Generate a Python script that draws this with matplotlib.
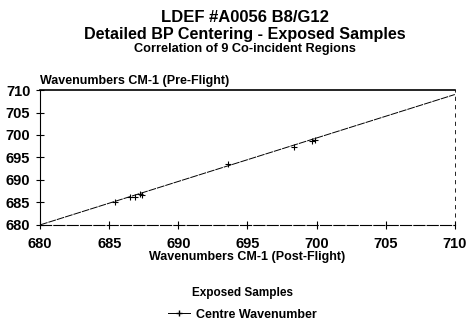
import matplotlib
matplotlib.use("Agg")
import matplotlib.pyplot as plt
from matplotlib.lines import Line2D

plt.rcParams['font.family'] = ['Liberation Sans', 'DejaVu Sans']
plt.rcParams['font.weight'] = 'bold'

# post-flight vs pre-flight centre wavenumbers (9 regions)
post_flight = [685.4, 686.5, 686.9, 687.2, 687.4, 693.6, 698.4, 699.7, 699.9]
pre_flight = [685.0, 686.1, 686.1, 686.9, 686.7, 693.5, 697.4, 698.7, 698.9]
fit_x = [680, 710]
fit_y = [680, 709]
ticks = [680, 685, 690, 695, 700, 705, 710]

fig = plt.figure(figsize=(4.66, 3.25), dpi=100)
ax = fig.add_axes([0.086, 0.308, 0.890, 0.415])

ax.plot(fit_x, fit_y, color='black', lw=0.7, dashes=(8, 1))
ax.plot(post_flight, pre_flight, ls='none', marker='+', ms=4, mew=0.8, color='black')

ax.set_xlim(680, 710)
ax.set_ylim(680, 710)
ax.set_xticks(ticks)
ax.set_yticks(ticks)
ax.tick_params(direction='inout', length=6, width=0.8, labelsize=10.5)
ax.tick_params(axis='x', pad=6)
ax.tick_params(axis='y', pad=4)
for lab in ax.get_xticklabels() + ax.get_yticklabels():
    lab.set_fontweight('bold')
ax.spines['right'].set_linestyle((0, (4, 6)))
ax.spines['right'].set_linewidth(0.6)
ax.spines['top'].set_linewidth(1.2)
ax.spines['bottom'].set_linestyle((0, (10, 2)))

fig.text(0.526, 0.947, "LDEF #A0056 B8/G12", ha='center', va='center', fontsize=12, fontweight='bold')
fig.text(0.526, 0.895, "Detailed BP Centering - Exposed Samples", ha='center', va='center', fontsize=11.6, fontweight='bold')
fig.text(0.526, 0.849, "Correlation of 9 Co-incident Regions", ha='center', va='center', fontsize=9.2, fontweight='bold')
fig.text(0.086, 0.752, "Wavenumbers CM-1 (Pre-Flight)", ha='left', va='center', fontsize=9, fontweight='bold')
ax.set_xlabel("Wavenumbers CM-1 (Post-Flight)", fontsize=9, fontweight='bold', labelpad=0)

handle = Line2D([], [], color='black', lw=0.7, marker='+', ms=4)
leg = fig.legend([handle], ["Centre Wavenumber"], loc='center', bbox_to_anchor=(0.52, 0.065),
                 frameon=False, fontsize=9, title="Exposed Samples", handlelength=1.8,
                 handletextpad=0.5)
leg.get_title().set_fontweight('bold')
leg.get_title().set_fontsize(8.5)
for t in leg.get_texts():
    t.set_fontweight('bold')
leg._legend_box.sep = 7

fig.savefig("out.png", dpi=100)
